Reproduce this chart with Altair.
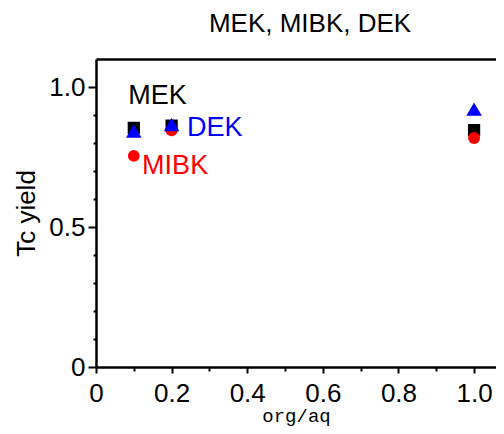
import altair as alt
import pandas as pd

x_vals = [0.1, 0.2, 1.0]
mek = [0.854, 0.862, 0.846]
mibk = [0.754, 0.845, 0.818]
dek = [0.843, 0.866, 0.921]

label_text = ["MEK", "DEK", "MIBK"]
label_x = [0.085, 0.241, 0.122]
label_y = [0.968, 0.854, 0.718]
label_col = ["black", "blue", "red"]

df_mek = pd.DataFrame({"x": x_vals, "y": mek})
df_mibk = pd.DataFrame({"x": x_vals, "y": mibk})
df_dek = pd.DataFrame({"x": x_vals, "y": dek})
df_lab = pd.DataFrame({"x": label_x, "y": label_y, "t": label_text, "c": label_col})

xs = alt.Scale(domain=[0, 1.058], nice=False, zero=False)
ys = alt.Scale(domain=[0, 1.1], nice=False, zero=False)

lab_expr = "datum.value == 0 ? '0' : format(datum.value, '.1f')"

main_x = alt.Axis(values=[0, 0.2, 0.4, 0.6, 0.8, 1.0], labelExpr=lab_expr, title="org/aq",
                  titleFont="Liberation Mono", titleFontSize=19, titleFontWeight="normal",
                  titleBaseline="alphabetic", titleY=54, labelFontSize=26, labelPadding=7,
                  tickSize=6, tickWidth=2,
                  domainWidth=2.5, grid=False, orient="bottom", labelFlush=False)
main_y = alt.Axis(values=[0, 0.5, 1.0], labelExpr=lab_expr, title="Tc yield",
                  titleFontSize=26, titleFontWeight="normal", titlePadding=9,
                  labelFontSize=26, labelPadding=3, tickSize=8, tickWidth=2,
                  domainWidth=2.5, grid=False, orient="left")
minor_x = alt.Axis(values=[0.1, 0.3, 0.5, 0.7, 0.9], labels=False, title=None, tickSize=4,
                   tickWidth=2, domain=False, grid=False, orient="bottom")
minor_y = alt.Axis(values=[0.1, 0.2, 0.3, 0.4, 0.6, 0.7, 0.8, 0.9], labels=False, title=None,
                   tickSize=3, tickWidth=2, domain=False, grid=False, orient="left")
top_x = alt.Axis(labels=False, ticks=False, title=None, domain=True, domainWidth=2.5,
                 grid=False, orient="top")

sq = alt.Chart(df_mek).mark_point(shape="square", filled=True, color="black", size=150, opacity=1).encode(
    x=alt.X("x:Q", scale=xs, axis=main_x), y=alt.Y("y:Q", scale=ys, axis=main_y))
ci = alt.Chart(df_mibk).mark_point(shape="circle", filled=True, color="#ff0000", size=140, opacity=1).encode(
    x=alt.X("x:Q", scale=xs, axis=minor_x), y=alt.Y("y:Q", scale=ys, axis=minor_y))
tr = alt.Chart(df_dek).mark_point(shape="triangle-up", filled=True, color="#0000ff", size=240, opacity=1).encode(
    x=alt.X("x:Q", scale=xs, axis=top_x), y=alt.Y("y:Q", scale=ys, axis=None))
tx = alt.Chart(df_lab).mark_text(align="left", baseline="middle", fontSize=27, font="Liberation Sans").encode(
    x=alt.X("x:Q", scale=xs, axis=None), y=alt.Y("y:Q", scale=ys, axis=None),
    text="t:N", color=alt.Color("c:N", scale=None))

chart = alt.layer(sq, ci, tr, tx).resolve_axis(x="independent", y="independent").properties(
    width=400, height=308,
    title=alt.TitleParams("MEK, MIBK, DEK", fontSize=26, fontWeight="normal", font="Liberation Sans",
                          anchor="middle", offset=22, dx=14),
    autosize=alt.AutoSizeParams(type="none"),
    padding={"left": 88, "top": 51, "right": 0, "bottom": 59},
).configure_view(stroke=None).configure_axis(
    labelFont="Liberation Sans", titleFont="Liberation Sans", domainColor="black", tickColor="black",
    labelColor="black", titleColor="black")

chart.save("out.html", embed_options={"renderer": "svg", "actions": False})
